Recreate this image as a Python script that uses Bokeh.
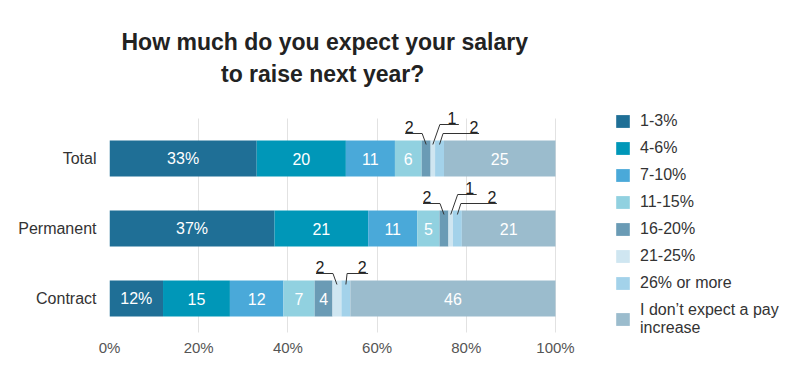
from bokeh.plotting import figure
from bokeh.models import (ColumnDataSource, Range1d, FixedTicker, Legend, LegendItem, Title)
from bokeh.core.properties import value
from bokeh.embed import file_html
from bokeh.resources import INLINE

# ---------------- data ----------------
categories = ["Total", "Permanent", "Contract"]
cat_pos = [2, 1, 0]
brackets = ["1-3%", "4-6%", "7-10%", "11-15%", "16-20%", "21-25%",
            "26% or more", "I don\u2019t expect a pay\nincrease"]
total = [33, 20, 11, 6, 2, 1, 2, 25]
permanent = [37, 21, 11, 5, 2, 1, 2, 21]
contract = [12, 15, 12, 7, 4, 2, 2, 46]
x_ticks = [0, 20, 40, 60, 80, 100]
x_tick_labels = ["0%", "20%", "40%", "60%", "80%", "100%"]
title_lines = ["How much do you expect your salary", "to raise next year?"]

series = [total, permanent, contract]

# ---------------- style ----------------
colors = ["#1f6f96", "#0097b8", "#4aa9d9", "#91d1e0", "#6a9bb5", "#cfe6f1",
          "#a3d2ea", "#9bbccd"]
FONT = "Liberation Sans"
W, H = 792, 376
LEFT, TOP, BOTTOM, RIGHT = 109, 108, 337, 790
PX_PER_PCT = 4.46          # 100 % spans 446 px
PX_PER_CAT = 70.0
BAR_H = 36 / PX_PER_CAT
XPX = 1.0 / PX_PER_PCT
YPX = 1.0 / PX_PER_CAT
X_END = (RIGHT - LEFT) / PX_PER_PCT
Y1 = 2 + (158 - TOP) / PX_PER_CAT
Y0 = -(BOTTOM - 298) / PX_PER_CAT
GRID_Y0, GRID_Y1 = -34 / PX_PER_CAT, 2 + 40 / PX_PER_CAT
TITLE_CENTER = 324
TITLE_WIDTHS = [406, 207]   # approximate rendered widths of the two title lines

# callouts for tiny segments: (segment index, style)
callouts = {
    "Total": [(4, "left"), (5, "high"), (6, "long")],
    "Permanent": [(4, "left"), (5, "high"), (6, "long")],
    "Contract": [(5, "left"), (6, "right")],
}
# style -> elbow dx px, elbow dy px, underline length px, label dx px
callout_style = {
    "left": (-4, 7, -17, -13),
    "high": (7, 16, 19, 12),
    "long": (3.5, 7, 36, 31),
    "right": (1.2, 7, 21, 15),
}

p = figure(width=W, height=H, x_range=Range1d(0, X_END), y_range=Range1d(Y0, Y1),
           output_backend="svg", toolbar_location=None,
           min_border_left=LEFT, min_border_right=W - RIGHT, min_border_top=TOP,
           min_border_bottom=H - BOTTOM, outline_line_color=None)

keys = ["s%d" % i for i in range(len(brackets))]
data = {"y": cat_pos}
for i, k in enumerate(keys):
    data[k] = [s[i] for s in series]
source = ColumnDataSource(data)

# grid lines limited to the bar area
if hasattr(p.xgrid[0], "cross_bounds"):
    p.xgrid.cross_bounds = (GRID_Y0, GRID_Y1)
    p.xgrid.grid_line_color = "#e2e2e2"
else:
    p.xgrid.grid_line_color = None
    p.segment(x0=x_ticks, x1=x_ticks, y0=[GRID_Y0] * len(x_ticks),
              y1=[GRID_Y1] * len(x_ticks), line_color="#e2e2e2", line_width=1)
p.ygrid.grid_line_color = None

renderers = p.hbar_stack(keys, y="y", height=BAR_H, color=colors, source=source,
                         line_width=0)

# inside labels
lx, ly, lt = [], [], []
# callout geometry
seg_xs, seg_ys, cx, cy, ct = [], [], [], [], []
for cat, ypos, vals in zip(categories, cat_pos, series):
    left = 0
    centers = []
    for i, v in enumerate(vals):
        centers.append(left + v / 2.0)
        if v >= 3:
            lx.append(left + v / 2.0)
            ly.append(ypos)
            lt.append("%d%%" % v if i == 0 else "%d" % v)
        left += v
    top = ypos + BAR_H / 2
    for idx, kind in callouts[cat]:
        edx, edy, ln, ldx = callout_style[kind]
        x0, y0 = centers[idx], top - 4 * YPX
        ex, ey = x0 + edx * XPX, top + edy * YPX
        seg_xs.append([x0, ex, ex + ln * XPX])
        seg_ys.append([y0, ey, ey])
        cx.append(ex + ldx * XPX)
        cy.append(ey + 7 * YPX)
        ct.append("%d" % vals[idx])

p.text(x=lx, y=ly, text=lt, text_color="white", text_font=value(FONT),
       text_font_size="16px", text_align="center", text_baseline="middle")
p.multi_line(xs=seg_xs, ys=seg_ys, line_color="#333333", line_width=1)
p.text(x=cx, y=cy, text=ct, text_color="#222222", text_font=value(FONT),
       text_font_size="16px", text_align="center", text_baseline="middle")

# axes
p.xaxis.ticker = FixedTicker(ticks=x_ticks)
p.xaxis.major_label_overrides = {t: l for t, l in zip(x_ticks, x_tick_labels)}
p.xaxis.axis_line_color = None
p.xaxis.major_tick_line_color = None
p.xaxis.minor_tick_line_color = None
p.xaxis.major_tick_out = 0
p.xaxis.major_tick_in = 0
p.xaxis.major_label_text_font = FONT
p.xaxis.major_label_text_font_size = "15px"
p.xaxis.major_label_text_color = "#555555"
p.xaxis.major_label_standoff = 1

p.yaxis.ticker = FixedTicker(ticks=cat_pos)
p.yaxis.major_label_overrides = {y: c for y, c in zip(cat_pos, categories)}
p.yaxis.axis_line_color = None
p.yaxis.major_tick_line_color = None
p.yaxis.minor_tick_line_color = None
p.yaxis.major_tick_out = 0
p.yaxis.major_tick_in = 0
p.yaxis.major_label_text_font = FONT
p.yaxis.major_label_text_font_size = "16px"
p.yaxis.major_label_text_color = "#333333"
p.yaxis.major_label_standoff = 13

# legend (inside the wide, invisible frame)
items = [LegendItem(label=b, renderers=[r]) for b, r in zip(brackets, renderers)]
legend = Legend(items=items, location=(614 - LEFT, 0), border_line_color=None,
                background_fill_alpha=0, padding=0, margin=0,
                glyph_width=17, glyph_height=16, label_standoff=9, spacing=9,
                label_text_font=FONT, label_text_font_size="16px",
                label_text_color="#333333")
p.add_layout(legend)

# title: spacer, then the two centred lines (first added sits closest to the plot)
p.add_layout(Title(text=" ", text_font_size="10px", standoff=7), "above")
for line, w, so in reversed(list(zip(title_lines, TITLE_WIDTHS, [3, 4]))):
    t = Title(text=line, align="left", text_font=FONT, text_font_size="23px",
              text_font_style="bold", text_color="#222222",
              offset=TITLE_CENTER - w / 2 - LEFT, standoff=so)
    p.add_layout(t, "above")

open("out.html", "w").write(file_html(p, INLINE))
